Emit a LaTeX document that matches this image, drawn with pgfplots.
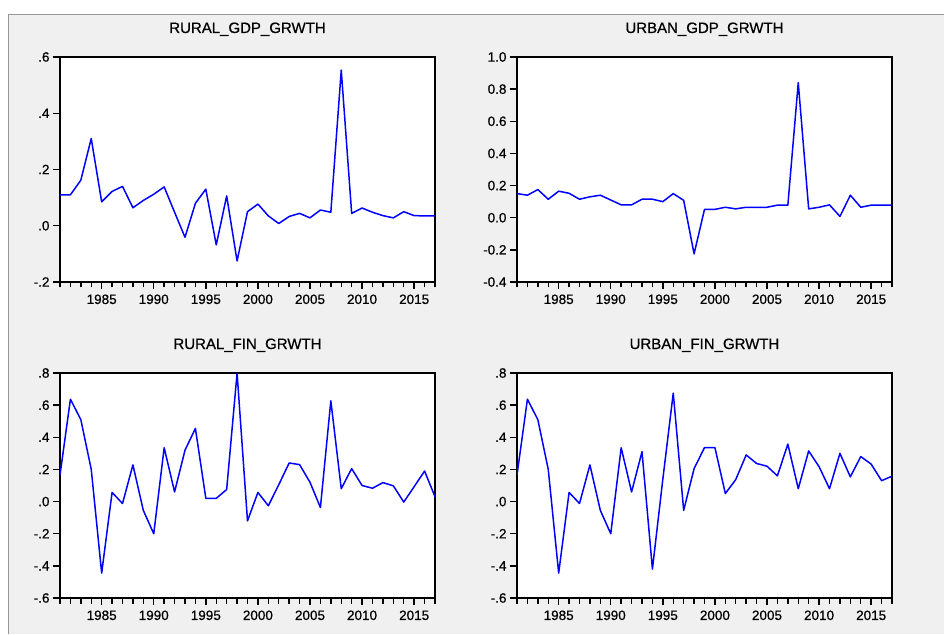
\documentclass[border=0pt]{standalone}
\usepackage{fontspec}
\setmainfont{Liberation Sans}
\newfontfamily\evfont[FakeBold=0.6]{Liberation Sans}
\usepackage{pgfplots}
\pgfplotsset{compat=1.18}
\definecolor{evblue}{RGB}{0,0,255}
\definecolor{bg}{RGB}{240,240,240}
\definecolor{frm}{RGB}{150,150,150}
\pgfplotsset{ev/.style={
  scale only axis, width=375pt, height=225pt,
  xmin=1981, xmax=2017,
  axis line style={black, line width=1.5pt},
  axis background/.style={fill=white},
  xtick={1985,1990,...,2015},
  xticklabels={1985,1990,1995,2000,2005,2010,2015},
  minor xtick={1981,...,2017},
  tick align=outside, xtick pos=bottom, ytick pos=left,
  major tick length=7pt, minor tick length=5.5pt,
  tick style={black, line width=1.4pt},
  ticklabel style={font=\evfont\fontsize{13.5}{14}\selectfont},
  xticklabel style={yshift=-2pt},
  title style={font=\evfont\fontsize{15}{15}\selectfont, anchor=base, at={(0.5,1)}, yshift=18pt},
  clip=true,
  every axis plot/.append style={evblue, line width=1.5pt, no marks, line join=round},
}}
\begin{document}
\begin{tikzpicture}[x=1pt,y=1pt]
\useasboundingbox (0,0) rectangle (944,634);
\fill[white] (0,0) rectangle (944,634);
\fill[bg] (8.5,0) rectangle (944,619.5);
\draw[frm, line width=1.5pt] (8.5,0) -- (8.5,619.5) -- (944,619.5);

% RURAL GDP
\begin{axis}[ev, at={(60pt,352pt)}, anchor=south west,
  ymin=-0.2, ymax=0.6, ytick={-0.2,0,0.2,0.4,0.6}, yticklabels={-.2,.0,.2,.4,.6},
  title={RURAL\_GDP\_GRWTH}]
\addplot table {
x y
1981 0.11
1982 0.11
1983 0.162
1984 0.31
1985 0.085
1986 0.122
1987 0.14
1988 0.064
1989 0.09
1990 0.112
1991 0.138
1992 0.048
1993 -0.041
1994 0.08
1995 0.13
1996 -0.068
1997 0.106
1998 -0.125
1999 0.05
2000 0.077
2001 0.035
2002 0.008
2003 0.033
2004 0.044
2005 0.028
2006 0.056
2007 0.048
2008 0.553
2009 0.044
2010 0.063
2011 0.048
2012 0.036
2013 0.028
2014 0.05
2015 0.036
2016 0.035
2017 0.035
};
\end{axis}

% URBAN GDP
\begin{axis}[ev, at={(517pt,352pt)}, anchor=south west,
  ymin=-0.4, ymax=1.0, ytick={-0.4,-0.2,0,0.2,0.4,0.6,0.8,1.0},
  yticklabels={-0.4,-0.2,0.0,0.2,0.4,0.6,0.8,1.0},
  title={URBAN\_GDP\_GRWTH}]
\addplot table {
x y
1981 0.15
1982 0.14
1983 0.175
1984 0.115
1985 0.165
1986 0.152
1987 0.115
1988 0.13
1989 0.14
1990 0.11
1991 0.08
1992 0.08
1993 0.115
1994 0.115
1995 0.1
1996 0.15
1997 0.108
1998 -0.225
1999 0.052
2000 0.052
2001 0.065
2002 0.055
2003 0.065
2004 0.065
2005 0.065
2006 0.078
2007 0.078
2008 0.84
2009 0.055
2010 0.065
2011 0.08
2012 0.008
2013 0.14
2014 0.065
2015 0.078
2016 0.078
2017 0.078
};
\end{axis}

% RURAL FIN
\begin{axis}[ev, at={(60pt,36pt)}, anchor=south west,
  ymin=-0.6, ymax=0.8, ytick={-0.6,-0.4,-0.2,0,0.2,0.4,0.6,0.8},
  yticklabels={-.6,-.4,-.2,.0,.2,.4,.6,.8},
  title={RURAL\_FIN\_GRWTH}]
\addplot table {
x y
1981 0.165
1982 0.637
1983 0.51
1984 0.2
1985 -0.445
1986 0.057
1987 -0.012
1988 0.228
1989 -0.055
1990 -0.2
1991 0.335
1992 0.06
1993 0.32
1994 0.455
1995 0.02
1996 0.02
1997 0.075
1998 0.8
1999 -0.12
2000 0.057
2001 -0.026
2002 0.105
2003 0.24
2004 0.23
2005 0.12
2006 -0.037
2007 0.627
2008 0.08
2009 0.205
2010 0.1
2011 0.083
2012 0.118
2013 0.098
2014 -0.003
2015 0.093
2016 0.19
2017 0.03
};
\end{axis}

% URBAN FIN
\begin{axis}[ev, at={(517pt,36pt)}, anchor=south west,
  ymin=-0.6, ymax=0.8, ytick={-0.6,-0.4,-0.2,0,0.2,0.4,0.6,0.8},
  yticklabels={-.6,-.4,-.2,.0,.2,.4,.6,.8},
  title={URBAN\_FIN\_GRWTH}]
\addplot table {
x y
1981 0.165
1982 0.637
1983 0.51
1984 0.2
1985 -0.445
1986 0.057
1987 -0.012
1988 0.228
1989 -0.055
1990 -0.2
1991 0.335
1992 0.06
1993 0.31
1994 -0.42
1995 0.14
1996 0.675
1997 -0.055
1998 0.205
1999 0.336
2000 0.336
2001 0.05
2002 0.137
2003 0.29
2004 0.237
2005 0.22
2006 0.16
2007 0.358
2008 0.08
2009 0.315
2010 0.217
2011 0.08
2012 0.3
2013 0.154
2014 0.28
2015 0.233
2016 0.13
2017 0.158
};
\end{axis}
\end{tikzpicture}
\end{document}
